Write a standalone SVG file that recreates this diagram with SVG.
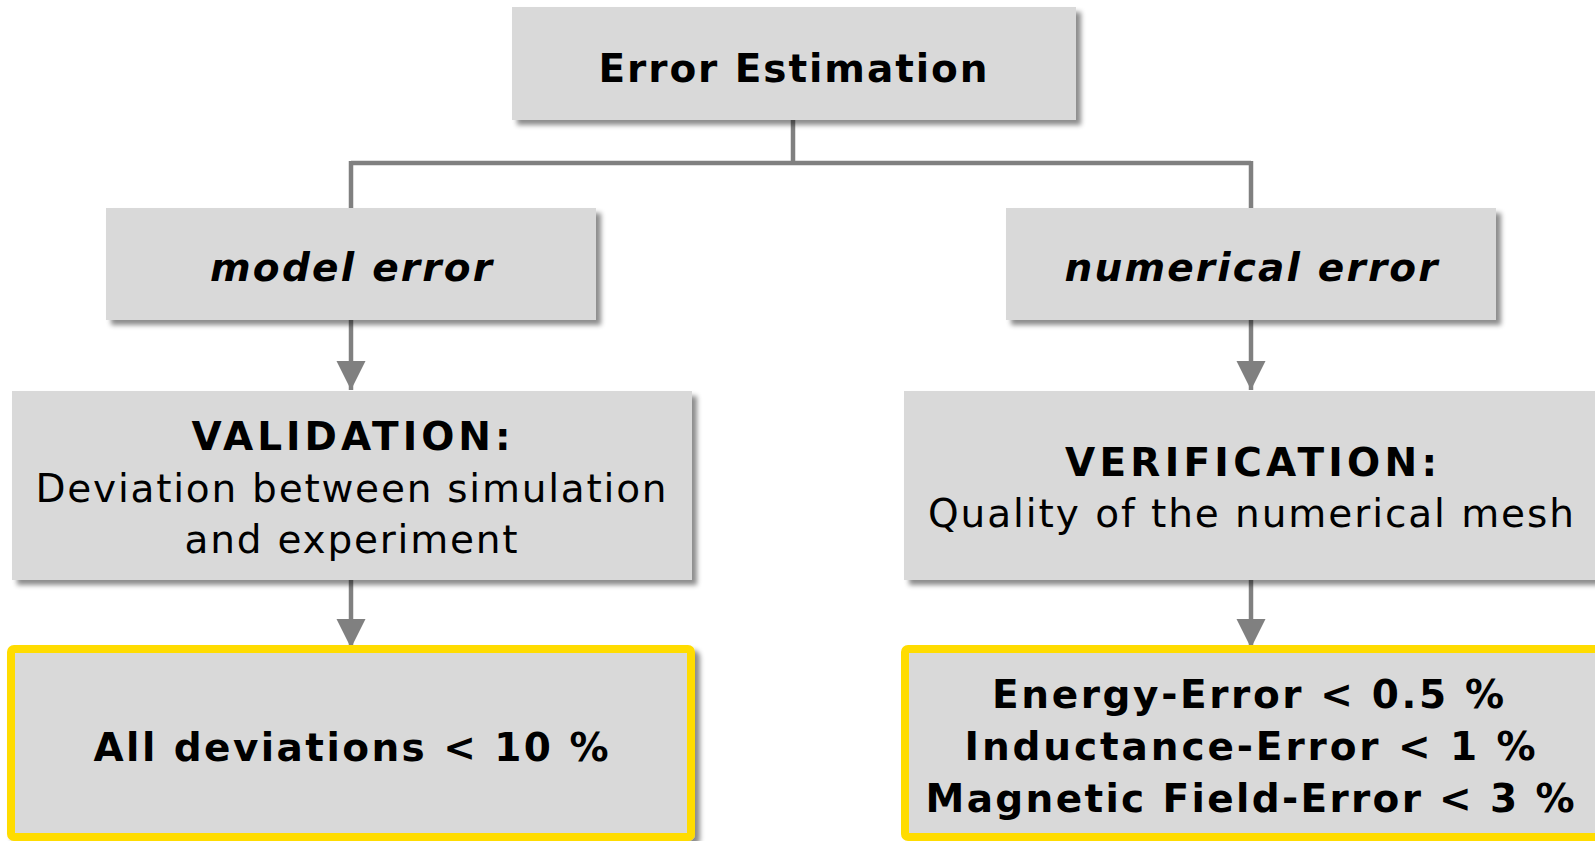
<svg xmlns="http://www.w3.org/2000/svg" width="1595" height="841" viewBox="0 0 1595 841">
<style>
.box{fill:#D9D9D9;filter:url(#sh)}
.hl{fill:#D9D9D9;stroke:#FFDC00;stroke-width:8}
.t{font-family:"DejaVu Sans","Liberation Sans",Arial,sans-serif;font-size:39px;fill:#000;text-anchor:middle}
.b{font-weight:bold}
.i{font-style:italic;font-weight:bold}
.c{stroke:#808080;stroke-width:4.5;fill:none}
</style>
<defs>
<filter id="sh" x="-5%" y="-10%" width="115%" height="130%">
<feDropShadow dx="5" dy="5" stdDeviation="2.5" flood-color="#000" flood-opacity="0.45"/>
</filter>
<marker id="ah" markerUnits="userSpaceOnUse" markerWidth="30" markerHeight="30" refX="29" refY="14.5" orient="auto">
<path d="M0,0 L29,14.5 L0,29 z" fill="#808080"/>
</marker>
</defs>
<g id="connectors">
<path class="c" d="M793,120 V163 M351,163 H1251 M351,161 V208 M1251,161 V208"/>
<line class="c" x1="351" y1="320" x2="351" y2="390" marker-end="url(#ah)"/>
<line class="c" x1="1251" y1="320" x2="1251" y2="390" marker-end="url(#ah)"/>
<line class="c" x1="351" y1="580" x2="351" y2="648" marker-end="url(#ah)"/>
<line class="c" x1="1251" y1="580" x2="1251" y2="648" marker-end="url(#ah)"/>
</g>
<g id="error-estimation">
<rect class="box" x="512" y="7" width="564" height="113"/>
<text class="t b" x="793" y="82" textLength="389" lengthAdjust="spacing">Error Estimation</text>
</g>
<g id="model-error">
<rect class="box" x="106" y="208" width="490" height="112"/>
<text class="t i" x="351" y="281" textLength="282" lengthAdjust="spacing">model error</text>
</g>
<g id="numerical-error">
<rect class="box" x="1006" y="208" width="490" height="112"/>
<text class="t i" x="1251" y="281" textLength="373" lengthAdjust="spacing">numerical error</text>
</g>
<g id="validation">
<rect class="box" x="12" y="391" width="680" height="189"/>
<text class="t b" x="351" y="450" textLength="319" lengthAdjust="spacing">VALIDATION:</text>
<text class="t" x="351" y="502" textLength="631" lengthAdjust="spacing">Deviation between simulation</text>
<text class="t" x="351" y="553" textLength="333" lengthAdjust="spacing">and experiment</text>
</g>
<g id="verification">
<rect class="box" x="904" y="391" width="700" height="189"/>
<text class="t b" x="1251" y="476" textLength="372" lengthAdjust="spacing">VERIFICATION:</text>
<text class="t" x="1251" y="527" textLength="646" lengthAdjust="spacing">Quality of the numerical mesh</text>
</g>
<g id="validation-result">
<rect class="hl" x="11" y="649" width="680" height="188" rx="3" filter="url(#sh)"/>
<text class="t b" x="351" y="761" textLength="515" lengthAdjust="spacing">All deviations &lt; 10 %</text>
</g>
<g id="verification-result">
<rect class="hl" x="905" y="649" width="710" height="188" rx="3"/>
<text class="t b" x="1248" y="708" textLength="512" lengthAdjust="spacing">Energy-Error &lt; 0.5 %</text>
<text class="t b" x="1250" y="760" textLength="571" lengthAdjust="spacing">Inductance-Error &lt; 1 %</text>
<text class="t b" x="1250" y="812" textLength="649" lengthAdjust="spacing">Magnetic Field-Error &lt; 3 %</text>
</g>
</svg>
